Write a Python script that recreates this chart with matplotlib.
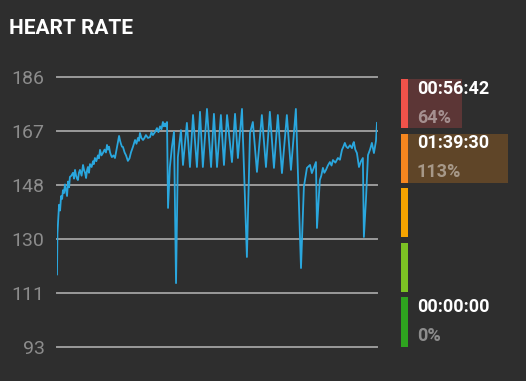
import matplotlib
matplotlib.use("Agg")
import matplotlib.pyplot as plt
from matplotlib.patches import Rectangle

# heart rate samples (minutes, bpm)
minutes = [0, 0.2, 1.0, 1.5, 2.0, 2.5, 2.9, 3.4, 3.9, 4.4, 4.9, 5.4, 5.9, 6.3,
           7.0, 7.8, 8.3, 8.8, 9.3, 9.8, 10.2, 10.7, 11.2, 12.0, 12.7, 13.2,
           13.7, 14.2, 14.7, 15.1, 15.6, 16.1, 16.9, 17.6, 18.0, 18.5, 19.2,
           20.0, 20.5, 21.0, 21.7, 22.4, 23.2, 23.9, 24.4, 24.9, 25.4, 25.9,
           26.4, 26.8, 27.6, 28.3, 28.8, 29.3, 29.8, 30.3, 30.8, 31.2, 31.7,
           32.2, 33.0, 33.7, 34.2, 34.6, 35.4, 36.1, 37.1, 38.1, 38.8, 39.5,
           40.0, 40.5, 41.2, 42.0, 42.7, 43.4, 44.4, 45.4, 46.1, 46.8, 47.8,
           48.8, 49.5, 50.3, 51.0, 51.7, 52.2, 52.7, 53.2, 53.7, 54.2, 55.1,
           56.1, 57.1, 58.1, 59.0, 60.5, 61.5, 63.4, 64.9, 66.4, 68.3, 69.8, 71.2,
           73.2, 75.2, 76.6, 78.1, 80.0, 81.5, 83.0, 85.4, 86.9, 88.3, 90.3, 92.7,
           94.2, 95.6, 97.6, 100.0, 102.0, 103.9, 105.9, 107.8, 109.8, 112.2, 114.2,
           116.6, 119.1, 120.5, 122.0, 123.5, 124.4, 126.4, 126.9, 128.3, 129.0,
           129.8, 130.5, 131.3, 132.2, 133.2, 134.0, 134.7, 135.9, 137.1, 138.1,
           139.1, 139.8, 140.5, 141.2, 142.0, 143.0, 144.0, 144.5, 144.9, 145.6,
           146.4, 147.4, 148.4, 149.3, 149.8, 150.8, 151.8, 152.8, 153.7, 154.7,
           155.7, 156.2]
bpm = [118, 132, 142, 140, 145, 144, 147, 146, 149, 147, 145, 150, 148, 151.6,
       152, 153, 151, 154, 152, 151, 150.5, 153, 154, 152, 155.7, 154,
       153, 151.2, 154, 155, 153, 156, 155, 157, 156, 158.1, 157,
       159, 158, 160.9, 159, 159.8, 161, 160, 162.6, 161, 162, 160,
       159, 158.4, 159, 158.1, 160, 162, 164, 165.7, 164, 163, 162,
       161.9, 160, 159, 158, 157.1, 158, 160, 162, 164.3, 163, 165,
       164, 166.7, 165, 164.3, 165, 166, 165, 165.3, 167, 166, 167,
       168.4, 167, 169, 168, 170.5, 169, 170, 169, 170.5, 140.9, 155,
       161.9, 167.1, 115, 158.4, 167.7, 155.7, 170.2, 155, 172.9, 155, 174, 155,
       175, 155, 173.3, 155, 172.9, 155.7, 172.9, 156.7, 173.3, 158.1, 175, 124,
       166.7, 170.5, 153.3, 172.9, 155, 174, 154.7, 172.9, 152.9, 172.9, 154,
       175, 120.2, 148.1, 154.7, 155.7, 152.9, 156.7, 134, 150.5, 152,
       154.7, 153, 154, 155.5, 156.7, 155.5, 157.4, 156.5, 158.1, 157.5,
       160.9, 162, 163.3, 162, 161.5, 162.5, 161.5, 163, 163.6, 161,
       159.8, 155, 157, 158.1, 130.9, 143.6, 159.1, 161, 163.3, 159.8,
       164, 170.2]

y_ticks = [93, 111.6, 130.2, 148.8, 167.4, 186]
y_labels = ["93", "111", "130", "148", "167", "186"]

zone_colors = ["#f0524a", "#f5861f", "#f5a300", "#7cc224", "#2ea31f"]
zone_box_colors = ["#5c3636", "#5f4528", None, None, None]
zone_times = ["00:56:42", "01:39:30", "", "", "00:00:00"]
zone_pct = [64, 113, None, None, 0]

bg = "#2e2e2e"
plt.rcParams['font.family'] = ['Roboto', 'DejaVu Sans']

fig = plt.figure(figsize=(5.26, 3.81), dpi=100, facecolor=bg)

ax = fig.add_axes([57/526, 1-347/381, 320/526, 270/381])
ax.set_facecolor(bg)
ax.set_xlim(0, 156.2)
ax.set_ylim(93, 186)
for t in y_ticks:
    ax.axhline(t, color="#9a9a9a", lw=1.4, clip_on=False, zorder=1)
ax.plot(minutes, bpm, color="#2aa7de", lw=1.3, zorder=2)
ax.set_yticks(y_ticks)
ax.set_yticklabels(y_labels, color="#8c8c8c", fontsize=14)
ax.tick_params(axis="y", length=0, pad=9)
ax.set_xticks([])
for s in ax.spines.values():
    s.set_visible(False)

fig.text(9/526, 1-28.5/381, "HEART RATE", color="white", fontsize=15,
         fontweight="bold", va="center", ha="left")

# zone panel
zx = fig.add_axes([401/526, 1-349.3/381, 125/526, 273/381])
zx.set_facecolor(bg)
zx.set_xlim(0, 125)
zx.set_ylim(5, 0)
zx.axis("off")
for i in range(5):
    if zone_box_colors[i] is not None:
        zx.add_patch(Rectangle((0, i+0.05), zone_pct[i]*0.95, 0.9,
                               color=zone_box_colors[i], lw=0))
    zx.add_patch(Rectangle((0, i+0.05), 7, 0.9, color=zone_colors[i], lw=0))
    if zone_times[i]:
        zx.text(16, i+0.23, zone_times[i], color="white", fontsize=13,
                fontweight="bold", va="center", ha="left")
        zx.text(16, i+0.755, f"{zone_pct[i]}%", color="white", alpha=0.45,
                fontsize=13, fontweight="bold", va="center", ha="left")

fig.savefig("out.png", dpi=100, facecolor=bg)
